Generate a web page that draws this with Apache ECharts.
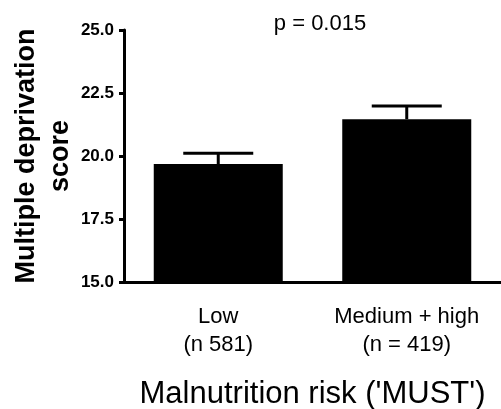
<!DOCTYPE html>
<html><head><meta charset="utf-8">
<script src="https://cdn.jsdelivr.net/npm/echarts@6/dist/echarts.min.js"></script>
<style>html,body{margin:0;padding:0;background:#fff}#c{width:501px;height:409px}</style>
</head><body><div id="c"></div>
<script>
const categories = ['Low\n(n 581)', 'Medium + high\n(n = 419)'];
const means = [19.68, 21.46];
const upperErrors = [20.11, 21.98];
const yTicks = [15, 17.5, 20, 22.5, 25];
const pText = 'p = 0.015';
const xTitle = "Malnutrition risk ('MUST')";
const yTitle = 'Multiple deprivation\nscore';

const chart = echarts.init(document.getElementById('c'));
const F = 'Liberation Sans, Arial, sans-serif';
chart.setOption({
  animation: false,
  grid: {left: 124, right: 0, top: 30, bottom: 127, containLabel: false, outerBoundsMode: 'none'},
  title: {text: pText, left: 315, top: 8, textAlign: 'center',
    textStyle: {fontFamily: F, fontSize: 22, fontWeight: 'normal', color: '#000'}},
  xAxis: {
    type: 'category', data: categories,
    axisLine: {lineStyle: {color: '#000', width: 3}},
    axisTick: {alignWithLabel: true, length: 8, lineStyle: {color: '#000', width: 3}},
    axisLabel: {fontFamily: F, fontSize: 22, color: '#000', margin: 21, lineHeight: 28},
    name: xTitle, nameLocation: 'middle', nameGap: 97, nameMoveOverlap: false,
    nameTextStyle: {fontFamily: F, fontSize: 31, color: '#000'}
  },
  yAxis: {
    type: 'value', min: yTicks[0], max: yTicks[yTicks.length-1], interval: 2.5,
    splitLine: {show: false},
    axisLine: {show: true, lineStyle: {color: '#000', width: 3}},
    axisTick: {show: true, length: 5, lineStyle: {color: '#000', width: 3}},
    axisLabel: {fontFamily: F, fontSize: 17, fontWeight: 'bold', color: '#000', margin: 10,
      formatter: v => v.toFixed(1)},
    name: yTitle, nameLocation: 'middle', nameRotate: 90, nameGap: 46, nameMoveOverlap: false,
    nameTextStyle: {fontFamily: F, fontSize: 27, fontWeight: 'bold', color: '#000', lineHeight: 34}
  },
  series: [
    {type: 'bar', data: means, barWidth: 129, itemStyle: {color: '#000'}, z: 2},
    {type: 'custom', z: 1,
      data: means.map((m, i) => [i, m, upperErrors[i]]),
      renderItem: (params, api) => {
        const base = api.coord([api.value(0), api.value(1)]);
        const top = api.coord([api.value(0), api.value(2)]);
        const hw = 35;
        return {type: 'group', children: [
          {type: 'line', shape: {x1: base[0], y1: base[1], x2: top[0], y2: top[1]}, style: {stroke: '#000', lineWidth: 3}},
          {type: 'line', shape: {x1: top[0]-hw, y1: top[1], x2: top[0]+hw, y2: top[1]}, style: {stroke: '#000', lineWidth: 3}}
        ]};
      }}
  ]
});
</script></body></html>
